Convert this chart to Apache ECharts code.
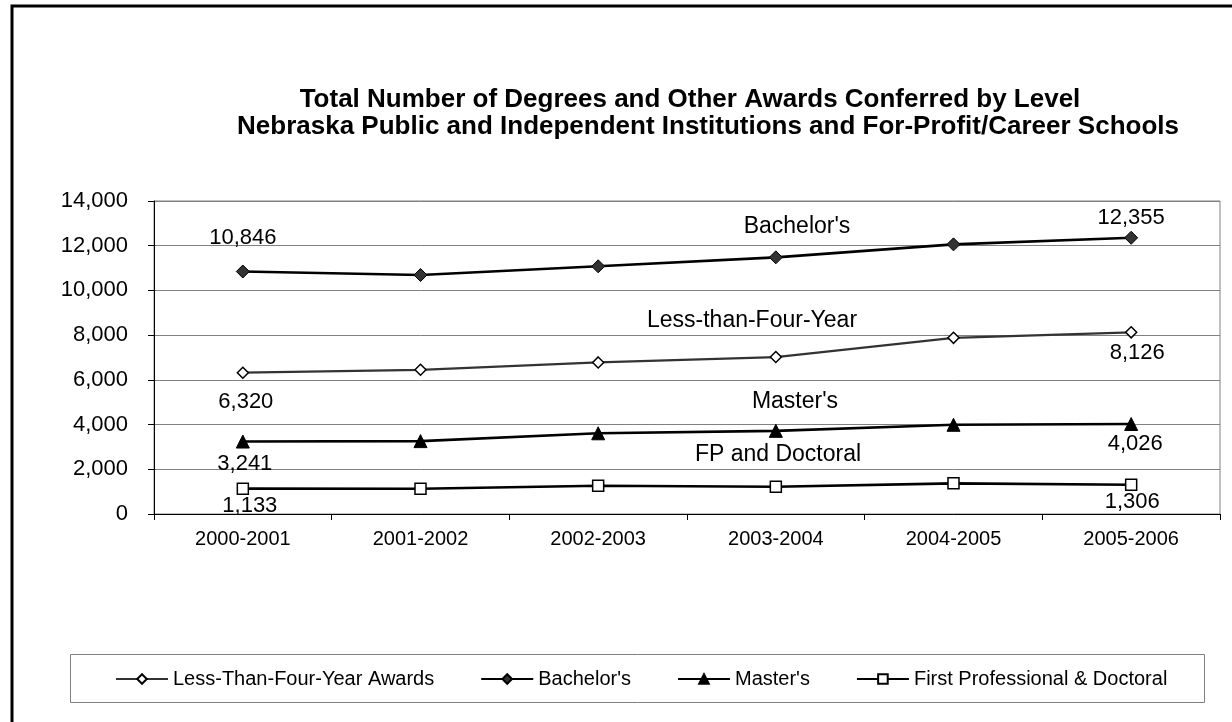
<!DOCTYPE html>
<html>
<head>
<meta charset="utf-8">
<style>
  html, body { margin: 0; padding: 0; background: #fff; }
  #chart { width: 1232px; height: 722px; }
</style>
<script src="https://cdn.jsdelivr.net/npm/echarts@6/dist/echarts.min.js"></script>
</head>
<body>
<div id="chart"></div>
<script>
// Academic years on the category axis
const years = ['2000-2001', '2001-2002', '2002-2003', '2003-2004', '2004-2005', '2005-2006'];

// Awards conferred per level
const lessThanFourYear = [6320, 6450, 6780, 7020, 7880, 8126];
const bachelors = [10846, 10690, 11080, 11480, 12060, 12355];
const masters = [3241, 3260, 3610, 3720, 3990, 4026];
const firstProfDoctoral = [1133, 1130, 1265, 1220, 1370, 1306];

// Value axis range
const yMin = 0;
const yMax = 14000;
const yStep = 2000;

const FONT = '"Liberation Sans", Arial, sans-serif';
const fmt = v => v.toLocaleString('en-US');

// Only the first and last point of each line carry a value label
function withEndLabels(values, firstLabel, lastLabel) {
  const last = values.length - 1;
  return values.map((v, i) => {
    if (i !== 0 && i !== last) return v;
    const cfg = i === 0 ? firstLabel : lastLabel;
    return {
      value: v,
      label: {
        show: true,
        position: cfg.position,
        distance: cfg.distance,
        offset: cfg.offset || [0, 0],
        formatter: p => fmt(p.value),
        color: '#000',
        fontFamily: FONT,
        fontSize: 22
      }
    };
  });
}

const chart = echarts.init(document.getElementById('chart'), null, { renderer: 'canvas' });

const textFont = size => size + 'px "Liberation Sans", Arial, sans-serif';

const option = {
  animation: false,
  backgroundColor: '#fff',
  textStyle: { fontFamily: FONT },
  grid: {
    left: 154, right: 12, top: 201, bottom: 208,
    show: true, borderColor: '#808080', borderWidth: 1
  },
  xAxis: {
    type: 'category',
    data: years,
    boundaryGap: true,
    axisLine: { lineStyle: { color: '#000', width: 1 } },
    axisTick: { show: true, length: 6, inside: false, lineStyle: { color: '#000' } },
    axisLabel: { color: '#000', fontSize: 20, fontFamily: FONT, margin: 15 },
    splitLine: { show: false }
  },
  yAxis: {
    type: 'value',
    min: yMin, max: yMax, interval: yStep,
    axisLine: { show: true, lineStyle: { color: '#000', width: 1 } },
    axisTick: { show: true, length: 6, lineStyle: { color: '#000' } },
    axisLabel: { color: '#000', fontSize: 22, fontFamily: FONT, margin: 26, formatter: v => fmt(v) },
    splitLine: { show: true, lineStyle: { color: '#808080', width: 1 } }
  },
  legend: {
    left: 110, top: 664,
    itemWidth: 52, itemHeight: 12, itemGap: 46,
    textStyle: { color: '#000', fontSize: 20, fontFamily: FONT },
    data: ['Less-Than-Four-Year Awards', "Bachelor's", "Master's", 'First Professional & Doctoral']
  },
  series: [
    {
      name: 'Less-Than-Four-Year Awards',
      type: 'line',
      data: withEndLabels(lessThanFourYear,
        { position: 'bottom', distance: 12, offset: [3, 0] },
        { position: 'bottom', distance: 3, offset: [6, 0] }),
      symbol: 'diamond', symbolSize: 11,
      lineStyle: { color: '#333', width: 2.2 },
      itemStyle: { color: '#fff', borderColor: '#000', borderWidth: 1.5 },
      z: 3
    },
    {
      name: "Bachelor's",
      type: 'line',
      data: withEndLabels(bachelors,
        { position: 'top', distance: 16 },
        { position: 'top', distance: 2 }),
      symbol: 'diamond', symbolSize: 13,
      lineStyle: { color: '#000', width: 2.6 },
      itemStyle: { color: '#333', borderColor: '#000', borderWidth: 1 },
      z: 3
    },
    {
      name: "Master's",
      type: 'line',
      data: withEndLabels(masters,
        { position: 'bottom', distance: 4, offset: [2, 0] },
        { position: 'bottom', distance: 2, offset: [4, 0] }),
      symbol: 'triangle', symbolSize: 13,
      lineStyle: { color: '#000', width: 2.6 },
      itemStyle: { color: '#000', borderColor: '#000', borderWidth: 1 },
      z: 3
    },
    {
      name: 'First Professional & Doctoral',
      type: 'line',
      data: withEndLabels(firstProfDoctoral,
        { position: 'bottom', distance: 0, offset: [7, 0] },
        { position: 'bottom', distance: 0, offset: [1, 0] }),
      symbol: 'rect', symbolSize: 11,
      lineStyle: { color: '#000', width: 2.6 },
      itemStyle: { color: '#fff', borderColor: '#000', borderWidth: 1.5 },
      z: 3
    }
  ],
  graphic: [
    // chart frame
    { type: 'rect', shape: { x: 12, y: 6, width: 1240, height: 730 },
      style: { fill: null, stroke: '#000', lineWidth: 3 }, silent: true },
    // legend frame
    { type: 'rect', shape: { x: 70.5, y: 654.5, width: 1134, height: 48 },
      style: { fill: null, stroke: '#808080', lineWidth: 1 }, silent: true, z: -1 },
    // two-line title, each line centred on its own
    { type: 'text', x: 690, y: 100,
      style: { text: 'Total Number of Degrees and Other Awards Conferred by Level',
        font: 'bold ' + textFont(26), fill: '#000', align: 'center', verticalAlign: 'middle' } },
    { type: 'text', x: 708, y: 127,
      style: { text: 'Nebraska Public and Independent Institutions and For-Profit/Career Schools',
        font: 'bold ' + textFont(26), fill: '#000', align: 'center', verticalAlign: 'middle' } },
    // series names written beside the lines
    { type: 'text', x: 797, y: 227, style: { text: "Bachelor's", font: textFont(23), fill: '#000', align: 'center', verticalAlign: 'middle' } },
    { type: 'text', x: 752, y: 321, style: { text: 'Less-than-Four-Year', font: textFont(23), fill: '#000', align: 'center', verticalAlign: 'middle' } },
    { type: 'text', x: 795, y: 402, style: { text: "Master's", font: textFont(23), fill: '#000', align: 'center', verticalAlign: 'middle' } },
    { type: 'text', x: 778, y: 455, style: { text: 'FP and Doctoral', font: textFont(23), fill: '#000', align: 'center', verticalAlign: 'middle' } }
  ]
};

chart.setOption(option);
</script>
</body>
</html>
